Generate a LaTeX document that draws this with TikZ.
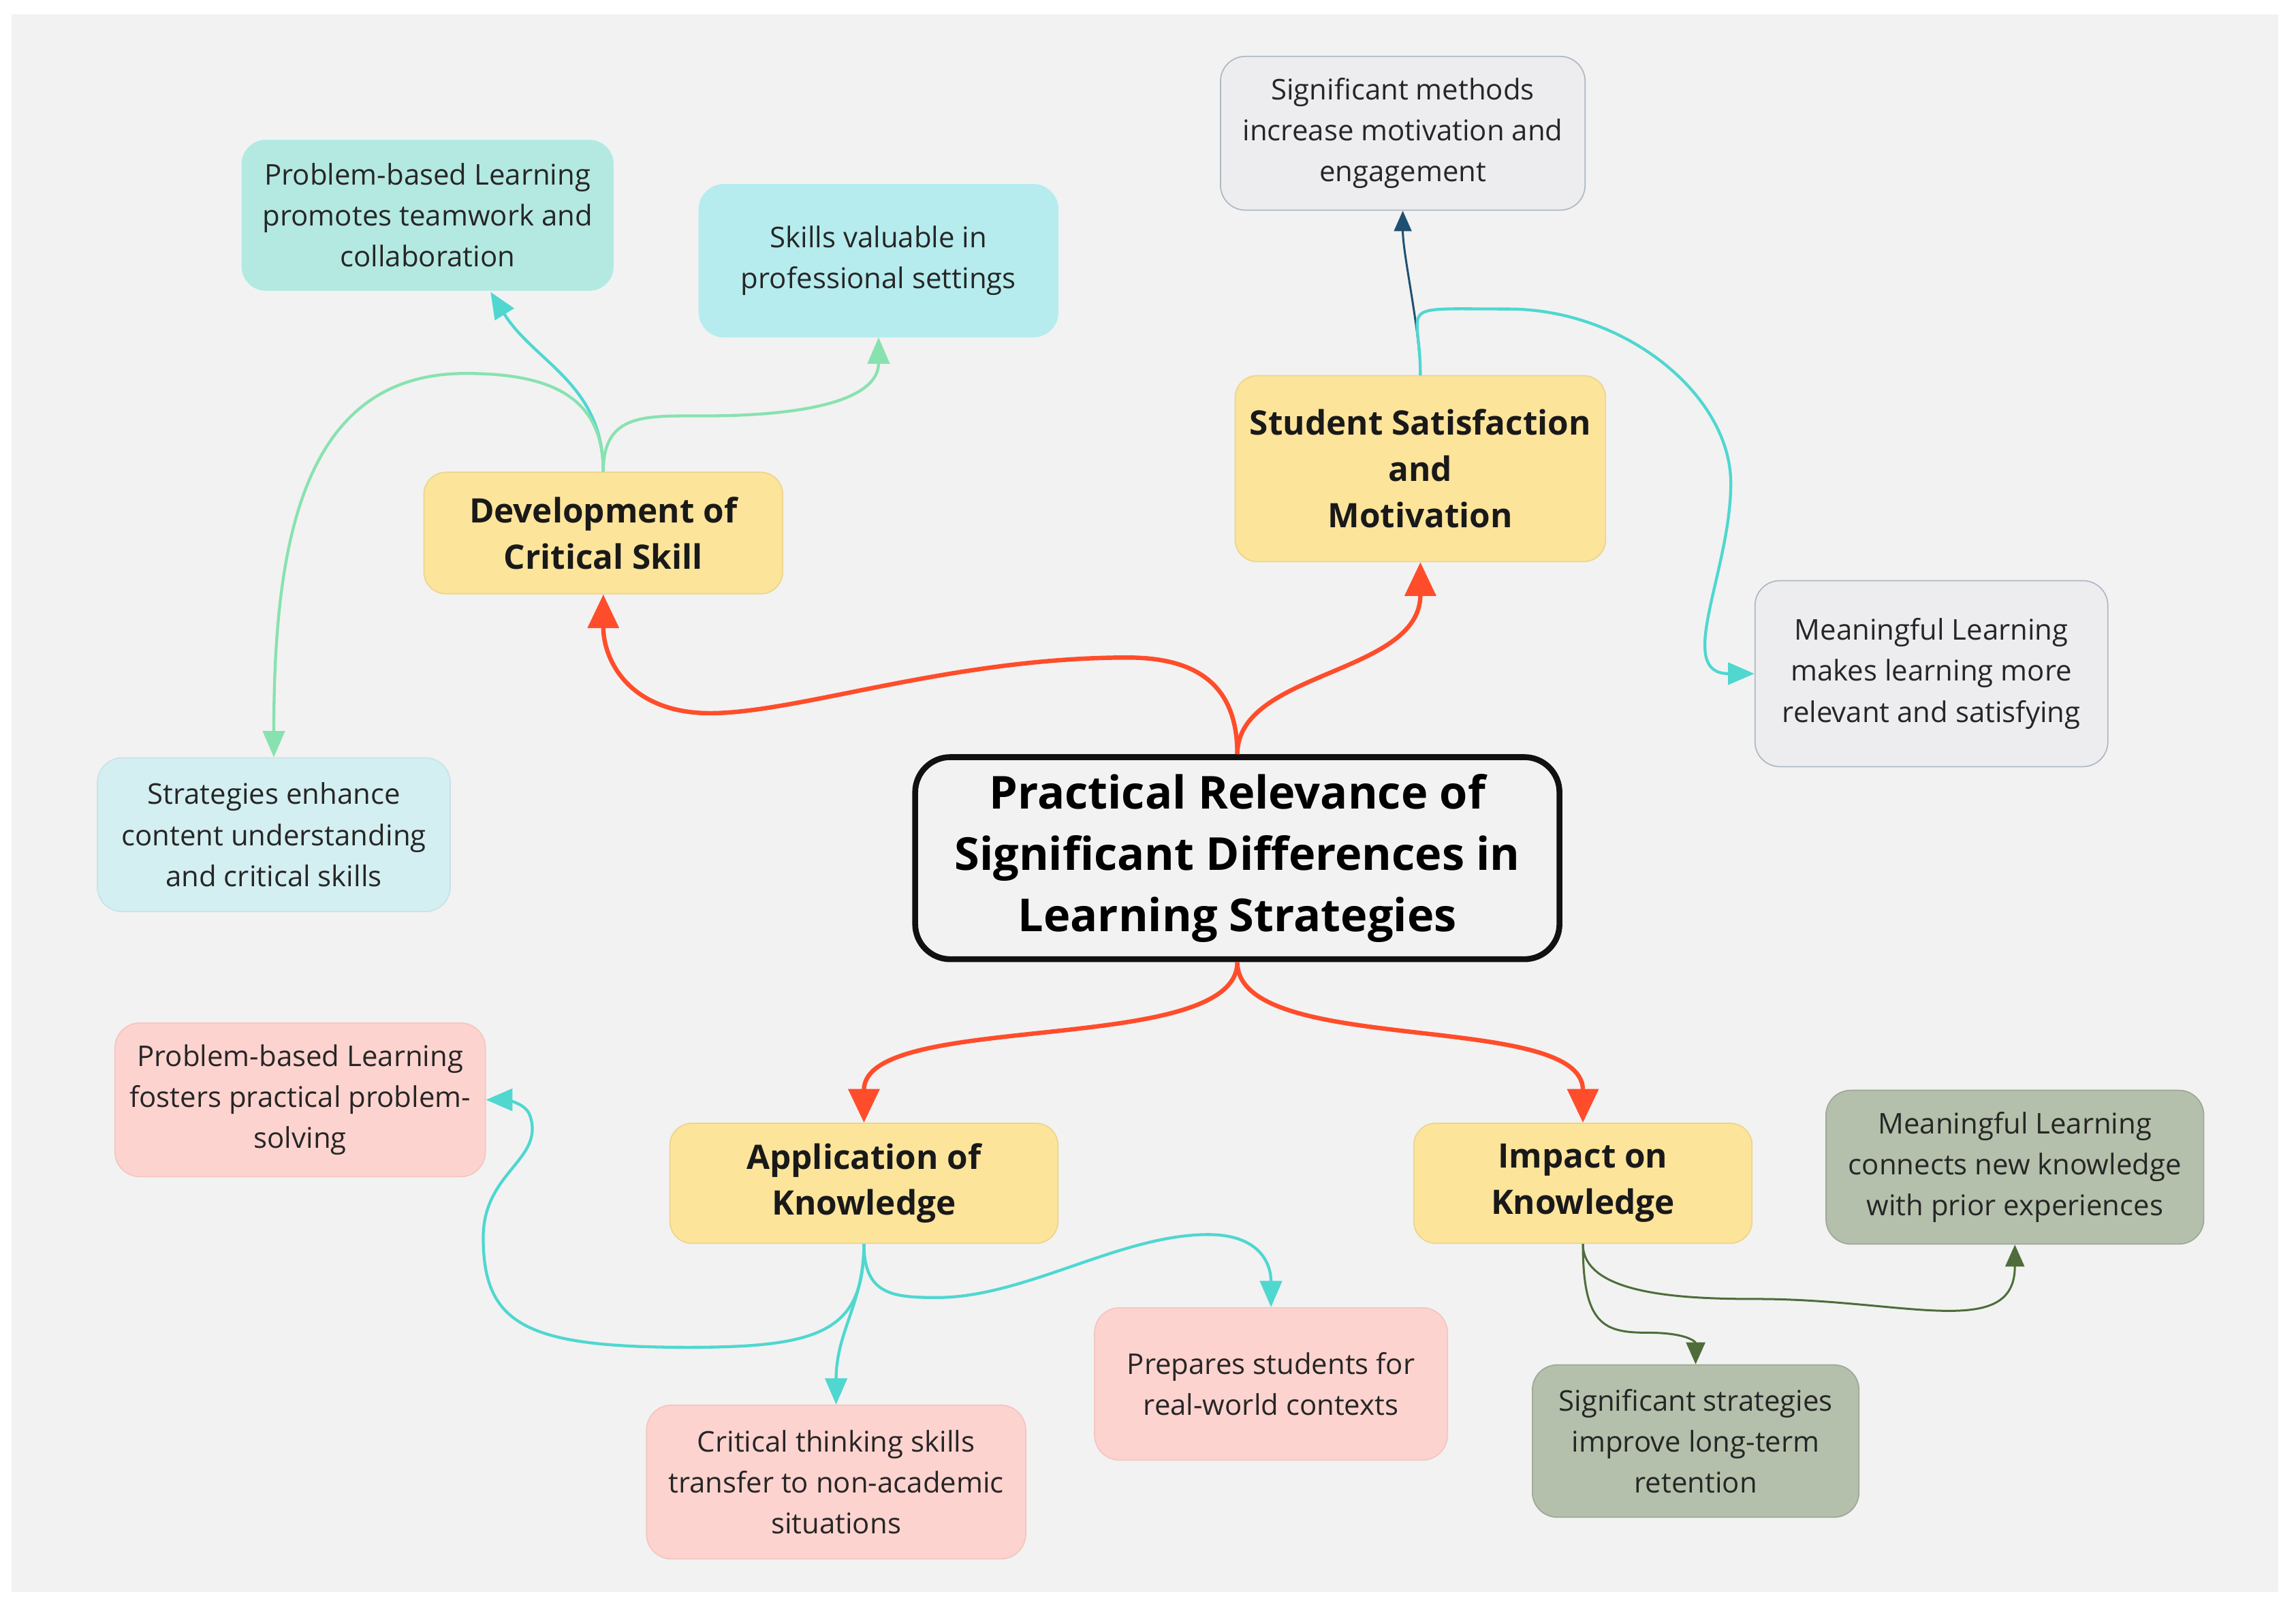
\documentclass[tikz,border=0pt]{standalone}
\usepackage{fontspec}
\setmainfont{Open Sans}
\usepackage{tikz}
\usetikzlibrary{positioning,arrows.meta}
\usepackage{xcolor}

\definecolor{bggrey}{HTML}{F2F2F2}
\definecolor{hubline}{HTML}{111111}
\definecolor{branchfill}{HTML}{FDE49B}
\definecolor{branchline}{HTML}{EDD48C}
\definecolor{tealfill}{HTML}{B4E9E2}
\definecolor{cyanfill}{HTML}{B6ECEE}
\definecolor{palefill}{HTML}{D4EFF1}
\definecolor{greyfill}{HTML}{EDEDEF}
\definecolor{greyline}{HTML}{AEB8C4}
\definecolor{pinkfill}{HTML}{FDD3CF}
\definecolor{pinkline}{HTML}{F3C6C1}
\definecolor{sagefill}{HTML}{B4C0AB}
\definecolor{sageline}{HTML}{9DA995}
\definecolor{redarrow}{HTML}{FF4D2B}
\definecolor{tealarrow}{HTML}{4FD7D0}
\definecolor{greenarrow}{HTML}{88E2B0}
\definecolor{bluearrow}{HTML}{1F5071}
\definecolor{olivearrow}{HTML}{4E6D3A}

\tikzset{
  hub/.style={draw=hubline, line width=4pt, rounded corners=24pt, fill=bggrey,
    align=center, inner sep=0pt, font=\fontsize{31}{42}\selectfont\bfseries},
  branch/.style={draw=branchline, line width=0.8pt, rounded corners=15pt, fill=branchfill,
    align=center, inner sep=0pt, font=\fontsize{23}{31.5}\selectfont\bfseries, text=black!90},
  leaf/.style={rounded corners=17pt, line width=0.8pt, align=center, inner sep=0pt,
    font=\fontsize{19.5}{28}\selectfont, text=black!85},
  tealleaf/.style={leaf, fill=tealfill, draw=tealfill!90!black!20},
  cyanleaf/.style={leaf, fill=cyanfill, draw=cyanfill},
  paleleaf/.style={leaf, fill=palefill, draw=palefill!95!black},
  greyleaf/.style={leaf, fill=greyfill, draw=greyline},
  pinkleaf/.style={leaf, fill=pinkfill, draw=pinkline},
  sageleaf/.style={leaf, fill=sagefill, draw=sageline},
  mainlink/.style={draw=redarrow, line width=3pt, -{Triangle[length=23pt,width=21pt]}},
  teallink/.style={draw=tealarrow, line width=2pt, -{Triangle[length=18pt,width=15pt]}},
  greenlink/.style={draw=greenarrow, line width=2pt, -{Triangle[length=18pt,width=15pt]}},
  bluelink/.style={draw=bluearrow, line width=1.4pt, -{Triangle[length=14pt,width=12pt]}},
  olivelink/.style={draw=olivearrow, line width=1.4pt, -{Triangle[length=15pt,width=13pt]}}
}

\begin{document}
\begin{tikzpicture}[x=1pt,y=-1pt]

\useasboundingbox (0,0) rectangle (1568,1100);
\fill[white] (0,0) rectangle (1568,1100);
\fill[bggrey] (8,10) rectangle (1556,1087);

% centre and main branches
\node[hub, minimum width=440pt, minimum height=138pt] (title) at (845,586)
  {Practical Relevance of\\Significant Differences in\\Learning Strategies};
\node[branch, minimum width=245pt, minimum height=83pt] (dev) at (412,364) {Development of\\Critical Skill};
\node[branch, minimum width=253pt, minimum height=127pt] (sat) at (970,320) {Student Satisfaction\\and\\Motivation};
\node[branch, minimum width=265pt, minimum height=82pt] (app) at (590,808) {Application of\\Knowledge};
\node[branch, minimum width=231pt, minimum height=82pt] (imp) at (1081,808) {Impact on\\Knowledge};

% leaves
\node[tealleaf, minimum width=255pt, minimum height=104pt] (pblteam) at (292,147) {Problem-based Learning\\promotes teamwork and\\collaboration};
\node[cyanleaf, minimum width=245pt, minimum height=104pt] (skills) at (600,178) {Skills valuable in\\professional settings};
\node[paleleaf, minimum width=241pt, minimum height=105pt] (strat) at (187,570) {Strategies enhance\\content understanding\\and critical skills};
\node[greyleaf, minimum width=249pt, minimum height=105pt] (methods) at (958,91) {Significant methods\\increase motivation and\\engagement};
\node[greyleaf, minimum width=241pt, minimum height=127pt] (meaning) at (1319,460) {Meaningful Learning\\makes learning more\\relevant and satisfying};
\node[pinkleaf, minimum width=253pt, minimum height=105pt] (pblfost) at (205,751) {Problem-based Learning\\fosters practical problem-\\solving};
\node[pinkleaf, minimum width=259pt, minimum height=105pt] (crit) at (571,1012) {Critical thinking skills\\transfer to non-academic\\situations};
\node[pinkleaf, minimum width=241pt, minimum height=104pt] (prep) at (868,945) {Prepares students for\\real-world contexts};
\node[sageleaf, minimum width=258pt, minimum height=105pt] (connects) at (1376,797) {Meaningful Learning\\connects new knowledge\\with prior experiences};
\node[sageleaf, minimum width=223pt, minimum height=104pt] (retent) at (1158,984) {Significant strategies\\improve long-term\\retention};

% red links
\draw[mainlink] (title.north) .. controls +(0,-45) and +(50,0) .. (770,449) .. controls +(-120,0) and +(60,0) .. (485,487) .. controls +(-55,0) and +(0,45) .. (dev.south);
\draw[mainlink] (title.north) .. controls +(0,-57) and +(0,77) .. (sat.south);
\draw[mainlink] (title.south) .. controls +(0,65) and +(0,-77) .. (app.north);
\draw[mainlink] (title.south) .. controls +(0,65) and +(0,-77) .. (imp.north);

% development of critical skill
\draw[teallink] (dev.north) .. controls +(0,-60) and +(30,48) .. ([xshift=43pt]pblteam.south);
\draw[greenlink] (dev.north) .. controls +(0,-40) and +(-40,0) .. (480,284) .. controls +(80,0) and +(0,40) .. (skills.south);
\draw[greenlink] (dev.north) .. controls +(0,-50) and +(60,0) .. (318,255) .. controls +(-110,0) and +(0,-150) .. (strat.north);

% student satisfaction
\draw[bluelink] (sat.north) .. controls +(0,-30) and +(0,30) .. (methods.south);
\draw[teallink] (sat.north) .. controls +(0,-50) and +(-80,0) .. (1030,211) .. controls +(80,0) and +(0,-60) .. (1182,330) .. controls +(0,60) and +(-55,0) .. (meaning.west);

% application of knowledge
\draw[teallink] (app.south) .. controls +(0,60) and +(90,0) .. (470,920) .. controls +(-110,0) and +(0,60) .. (330,845) .. controls +(0,-45) and +(10,30) .. (362,762) .. controls +(-3,-10) and +(10,0) .. (pblfost.east);
\draw[teallink] (app.south) .. controls +(0,40) and +(0,-50) .. (crit.north);
\draw[teallink] (app.south) .. controls +(0,35) and +(-30,0) .. (640,886) .. controls +(60,0) and +(-60,0) .. (825,843) .. controls +(35,0) and +(0,-30) .. (prep.north);

% impact on knowledge
\draw[olivelink] (imp.south) .. controls +(0,55) and +(-30,0) .. (1125,910) .. controls +(28,0) and +(0,-15) .. (retent.north);
\draw[olivelink] (imp.south) .. controls +(0,35) and +(-50,0) .. (1200,887) .. controls +(100,0) and +(0,66) .. (connects.south);

\end{tikzpicture}
\end{document}
